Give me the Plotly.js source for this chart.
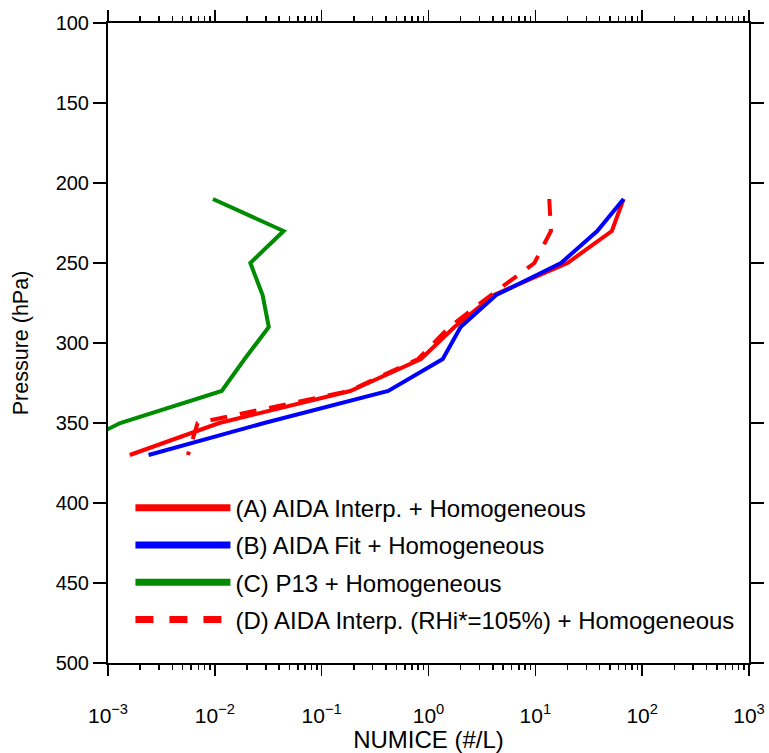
<!DOCTYPE html>
<html>
<head>
<meta charset="utf-8">
<script src="https://cdn.plot.ly/plotly-3.0.1.min.js"></script>
<style>html,body{margin:0;padding:0;background:#fff;}</style>
</head>
<body>
<div id="chart" style="width:769px;height:753px;"></div>
<script>
// Pressure levels (hPa)
const pressure = [210, 230, 250, 270, 290, 310, 330, 350, 370];
// NUMICE (#/L) per scenario
const numA = [67, 52, 20, 4.1, 1.75, 0.85, 0.185, 0.011, 0.0016];
const numB = [67, 38, 17.4, 4.3, 2.0, 1.36, 0.42, 0.029, 0.0024];
const numC = [0.0096, 0.044, 0.0215, 0.028, 0.032, 0.019, 0.0116, 0.0013, 0.00033];
const numD = [13.5, 14, 9.8, 3.85, 1.57, 0.8, 0.18, 0.0069, 0.0056];

const names = [
  '(A) AIDA Interp. + Homogeneous',
  '(B) AIDA Fit + Homogeneous',
  '(C) P13 + Homogeneous',
  '(D) AIDA Interp. (RHi*=105%) + Homogeneous'
];
const colors = ['#ff0000', '#0000ff', '#008c00', '#ff0000'];

const xTickVals = [1e-3, 1e-2, 1e-1, 1, 1e1, 1e2, 1e3];
const xTickText = ['10<sup>−3</sup>', '10<sup>−2</sup>', '10<sup>−1</sup>', '10<sup>0</sup>', '10<sup>1</sup>', '10<sup>2</sup>', '10<sup>3</sup>'];
const yTickVals = [100, 150, 200, 250, 300, 350, 400, 450, 500];

const minorVals = [];
for (let e = -3; e < 3; e++) {
  for (let m = 2; m <= 9; m++) minorVals.push(m * Math.pow(10, e));
}

const series = [numA, numB, numC, numD];
const traces = [];
series.forEach((s, i) => {
  traces.push({
    x: s, y: pressure, type: 'scatter', mode: 'lines',
    line: {color: colors[i], width: 4, dash: i === 3 ? '17px,13px' : 'solid'},
    showlegend: false, hoverinfo: 'skip'
  });
});
// legend-only entries (thicker symbols)
names.forEach((n, i) => {
  traces.push({
    x: [null], y: [null], type: 'scatter', mode: 'lines', name: n,
    legendgroup: 'g' + i,
    line: {color: colors[i], width: 7, dash: i === 3 ? '18px,16px' : 'solid'}
  });
});

const fam = 'Liberation Sans, Arial, sans-serif';

const layout = {
  width: 769, height: 753,
  margin: {l: 108, r: 20, t: 23, b: 90, pad: 0},
  paper_bgcolor: '#fff', plot_bgcolor: '#fff',
  font: {family: fam, size: 20, color: '#000'},
  showlegend: true,
  legend: {
    x: 0.035, y: 0.277, xanchor: 'left', yanchor: 'top',
    bgcolor: 'rgba(0,0,0,0)', borderwidth: 0,
    itemwidth: 95, traceorder: 'grouped', tracegroupgap: 3,
    font: {family: fam, size: 24, color: '#000'}
  },
  xaxis: {
    type: 'log', range: [-3, 3],
    tickmode: 'array', tickvals: xTickVals, ticktext: xTickText,
    ticks: 'outside', ticklen: 11, tickwidth: 1.5, tickcolor: '#000',
    minor: {tickmode: 'array', tickvals: minorVals, ticks: 'outside', ticklen: 5, tickwidth: 1.5, tickcolor: '#000', showgrid: false},
    showline: true, linecolor: '#000', linewidth: 2, mirror: 'allticks',
    showgrid: false, zeroline: false,
    ticklabelstandoff: 22,
    tickfont: {family: fam, size: 21, color: '#000'},
    title: {text: 'NUMICE (#/L)', font: {family: fam, size: 24, color: '#000'}, standoff: 4}
  },
  yaxis: {
    range: [500, 100],
    tickmode: 'array', tickvals: yTickVals,
    ticks: 'outside', ticklen: 13, tickwidth: 1.5, tickcolor: '#000',
    showline: true, linecolor: '#000', linewidth: 2, mirror: 'allticks',
    showgrid: false, zeroline: false,
    tickfont: {family: fam, size: 20, color: '#000'},
    title: {text: 'Pressure (hPa)', font: {family: fam, size: 21.5, color: '#000'}, standoff: 21}
  }
};

Plotly.newPlot('chart', traces, layout, {displayModeBar: false, staticPlot: true});
</script>
</body>
</html>
